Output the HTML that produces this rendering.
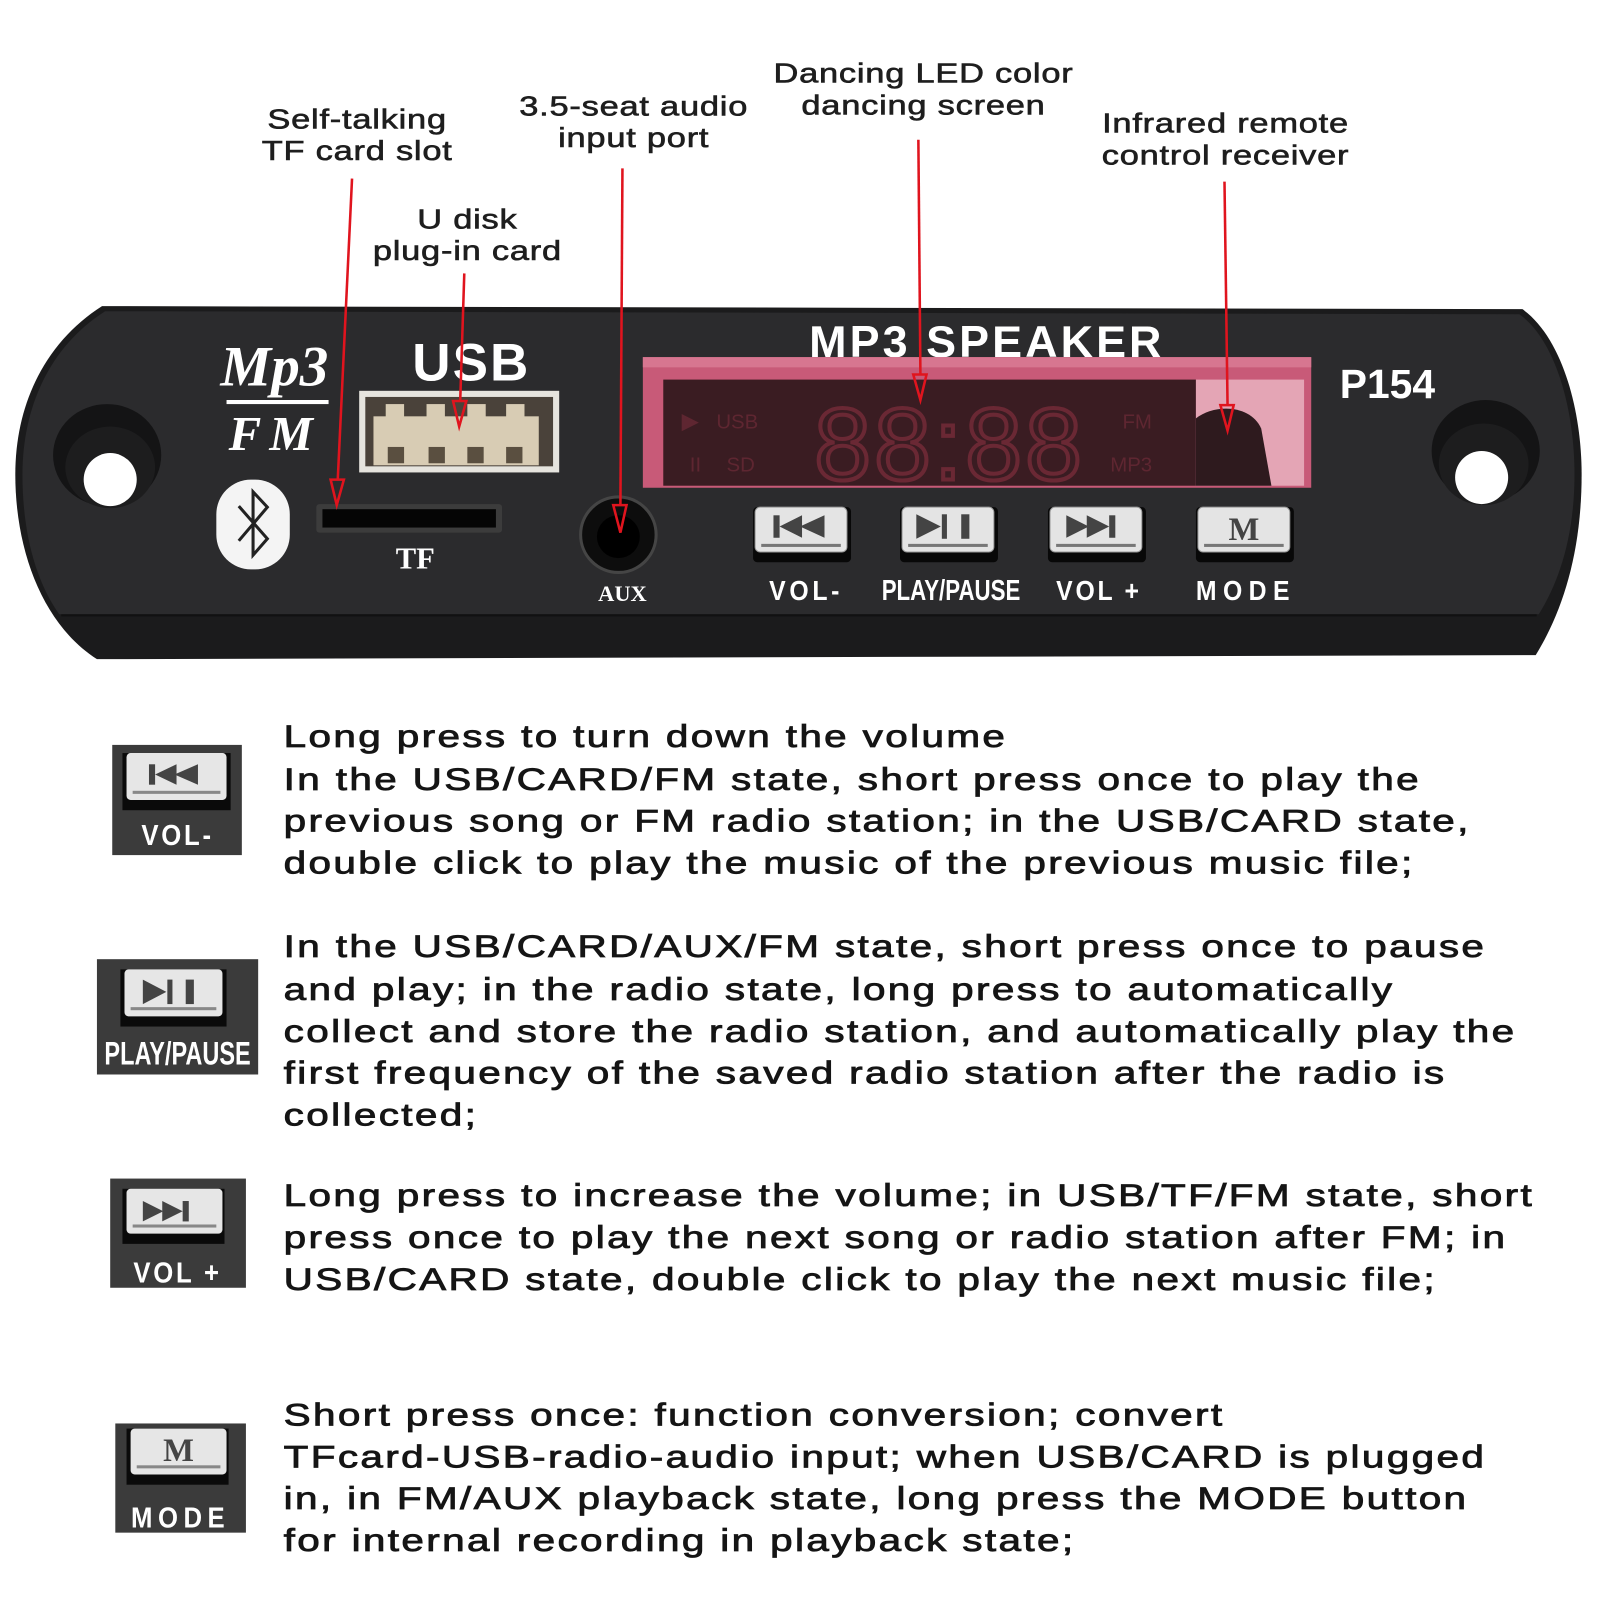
<!DOCTYPE html>
<html>
<head>
<meta charset="utf-8">
<style>
html,body{margin:0;padding:0;background:#fff;}
svg{display:block;}
.lbl{font-family:"Liberation Sans",Arial,sans-serif;font-size:27px;fill:#1e1e1e;stroke:#1e1e1e;stroke-width:0.6px;letter-spacing:0.6px;}
.body{font-family:"Liberation Sans",Arial,sans-serif;font-size:31px;fill:#151515;stroke:#151515;stroke-width:0.8px;letter-spacing:1.8px;}
.wb{font-family:"Liberation Sans",Arial,sans-serif;font-weight:bold;fill:#fff;}
.ws{font-family:"Liberation Serif","Times New Roman",serif;font-weight:bold;fill:#fff;}
.lcd{font-family:"Liberation Sans",Arial,sans-serif;fill:#5e2631;}
</style>
</head>
<body>
<svg width="1600" height="1600" viewBox="0 0 1568 1568" xmlns="http://www.w3.org/2000/svg">
<rect x="0" y="0" width="1568" height="1568" fill="#fff"/>

<!-- ===== Top labels ===== -->
<text class="lbl" text-anchor="middle" transform="translate(350,126) scale(1.25,1)">Self-talking</text>
<text class="lbl" text-anchor="middle" transform="translate(350,157) scale(1.25,1)">TF card slot</text>
<text class="lbl" text-anchor="middle" transform="translate(621,113) scale(1.25,1)">3.5-seat audio</text>
<text class="lbl" text-anchor="middle" transform="translate(621,144) scale(1.25,1)">input port</text>
<text class="lbl" text-anchor="middle" transform="translate(905,81) scale(1.25,1)">Dancing LED color</text>
<text class="lbl" text-anchor="middle" transform="translate(905,112) scale(1.25,1)">dancing screen</text>
<text class="lbl" text-anchor="middle" transform="translate(1201,130) scale(1.25,1)">Infrared remote</text>
<text class="lbl" text-anchor="middle" transform="translate(1201,161) scale(1.25,1)">control receiver</text>
<text class="lbl" text-anchor="middle" transform="translate(458,224) scale(1.25,1)">U disk</text>
<text class="lbl" text-anchor="middle" transform="translate(458,255) scale(1.25,1)">plug-in card</text>

<!-- ===== Panel ===== -->
<path d="M100,300 L1492,303 C1530,330 1550,400 1550,465 C1550,540 1532,598 1505,642 L95,646 C42,612 15,540 15,465 C15,395 45,335 100,300 Z" fill="#1b1b1c"/>
<path d="M103,305 L1489,308 C1524,333 1543,400 1543,465 C1543,525 1528,570 1508,602 L58,602 C34,568 22,520 22,465 C22,400 48,340 103,305 Z" fill="#2b2b2d"/>
<line x1="60" y1="603" x2="1506" y2="603" stroke="#111" stroke-width="2"/>

<!-- holes -->
<ellipse cx="105" cy="446" rx="53" ry="50" fill="#141415"/>
<ellipse cx="108" cy="458" rx="44" ry="40" fill="#1d1d1e"/>
<circle cx="108" cy="470" r="26" fill="#fff"/>
<ellipse cx="1456" cy="442" rx="53" ry="50" fill="#141415"/>
<ellipse cx="1454" cy="455" rx="44" ry="40" fill="#1d1d1e"/>
<circle cx="1452" cy="468" r="26" fill="#fff"/>

<!-- Mp3 / FM logo -->
<text class="ws" x="216" y="378" font-size="56" font-style="italic">Mp3</text>
<rect x="222" y="392" width="100" height="4" fill="#fff"/>
<text class="ws" x="224" y="441" font-size="48" font-style="italic" style="letter-spacing:8px">FM</text>

<!-- USB -->
<text class="wb" x="404" y="373" font-size="52" style="letter-spacing:2px">USB</text>
<rect x="352" y="383" width="196" height="80" fill="#e6e4de"/>
<rect x="358" y="389" width="184" height="68" fill="#4a423a"/>
<rect x="366" y="408" width="162" height="48" fill="#d8ccb4"/>
<rect x="378" y="396" width="18" height="14" fill="#d8ccb4"/>
<rect x="418" y="396" width="18" height="14" fill="#d8ccb4"/>
<rect x="458" y="396" width="18" height="14" fill="#d8ccb4"/>
<rect x="496" y="396" width="18" height="14" fill="#d8ccb4"/>
<rect x="380" y="438" width="16" height="16" fill="#5a4f40"/>
<rect x="420" y="438" width="16" height="16" fill="#5a4f40"/>
<rect x="458" y="438" width="16" height="16" fill="#5a4f40"/>
<rect x="496" y="438" width="16" height="16" fill="#5a4f40"/>

<!-- Bluetooth -->
<rect x="212" y="470" width="72" height="88" rx="34" fill="#f4f4f4"/>
<polyline points="234,496 262,528 248,544 248,482 262,497 234,530" fill="none" stroke="#222" stroke-width="3"/>

<!-- TF slot -->
<rect x="310" y="494" width="182" height="28" rx="3" fill="#3c3c3c"/>
<rect x="316" y="499" width="170" height="18" fill="#050505"/>
<text class="ws" x="407" y="557" font-size="30" text-anchor="middle">TF</text>

<!-- AUX -->
<circle cx="606" cy="524" r="37" fill="#0d0d0d" stroke="#454545" stroke-width="3"/>
<circle cx="606" cy="526" r="21" fill="#000"/>
<text class="ws" x="610" y="589" font-size="22" text-anchor="middle">AUX</text>

<!-- Display -->
<text class="wb" x="793" y="350" font-size="44" style="letter-spacing:3px">MP3 SPEAKER</text>
<rect x="630" y="350" width="655" height="128" fill="#c85a78"/>
<rect x="630" y="350" width="655" height="10" fill="#d77690"/>
<rect x="650" y="372" width="522" height="104" fill="#3a1c22"/>
<rect x="1172" y="372" width="106" height="104" fill="#e4a5b5"/>
<path d="M1172,410 C1190,396 1225,396 1236,420 L1246,476 L1172,476 Z" fill="#2e1a1e"/>
<text class="lcd" x="668" y="420" font-size="22">▶</text>
<text class="lcd" x="702" y="420" font-size="20">USB</text>
<text class="lcd" x="676" y="462" font-size="20">II</text>
<text class="lcd" x="712" y="462" font-size="20">SD</text>
<text class="lcd" x="1100" y="420" font-size="20">FM</text>
<text class="lcd" x="1088" y="462" font-size="20">MP3</text>
<text x="798" y="470" font-family="Liberation Sans,Arial,sans-serif" font-size="100" fill="none" stroke="#6a2834" stroke-width="4" style="letter-spacing:3px">88:88</text>

<text class="wb" x="1313" y="390" font-size="40">P154</text>

<!-- Panel buttons -->
<g>
  <rect x="738" y="497" width="96" height="54" rx="4" fill="#080808"/>
  <rect x="740" y="497" width="90" height="44" rx="5" fill="#e4e4e4" stroke="#999" stroke-width="1"/>
  <rect x="746" y="533" width="78" height="3" fill="#777"/>
  <rect x="758" y="505" width="6" height="22" fill="#444"/>
  <polygon points="764,516 786,505 786,527" fill="#444"/>
  <polygon points="784,516 808,505 808,527" fill="#444"/>
</g>
<g>
  <rect x="882" y="497" width="96" height="54" rx="4" fill="#080808"/>
  <rect x="884" y="497" width="90" height="44" rx="5" fill="#e4e4e4" stroke="#999" stroke-width="1"/>
  <rect x="890" y="533" width="78" height="3" fill="#777"/>
  <polygon points="898,504 898,528 922,516" fill="#444"/>
  <rect x="923" y="504" width="5" height="24" fill="#444"/>
  <rect x="942" y="504" width="8" height="24" fill="#444"/>
</g>
<g>
  <rect x="1027" y="497" width="96" height="54" rx="4" fill="#080808"/>
  <rect x="1029" y="497" width="90" height="44" rx="5" fill="#e4e4e4" stroke="#999" stroke-width="1"/>
  <rect x="1035" y="533" width="78" height="3" fill="#777"/>
  <polygon points="1045,505 1045,527 1067,516" fill="#444"/>
  <polygon points="1065,505 1065,527 1087,516" fill="#444"/>
  <rect x="1087" y="505" width="6" height="22" fill="#444"/>
</g>
<g>
  <rect x="1172" y="497" width="96" height="54" rx="4" fill="#080808"/>
  <rect x="1174" y="497" width="90" height="44" rx="5" fill="#e4e4e4" stroke="#999" stroke-width="1"/>
  <rect x="1180" y="533" width="78" height="3" fill="#777"/>
  <text x="1219" y="529" font-family="Liberation Serif,serif" font-weight="bold" font-size="32" fill="#444" text-anchor="middle">M</text>
</g>
<text class="wb" font-size="27" text-anchor="middle" transform="translate(790,588) scale(0.9,1)" style="letter-spacing:4px">VOL-</text>
<text class="wb" font-size="28" text-anchor="middle" transform="translate(932,588) scale(0.78,1)">PLAY/PAUSE</text>
<text class="wb" font-size="27" text-anchor="middle" transform="translate(1077,588) scale(0.9,1)" style="letter-spacing:3px">VOL +</text>
<text class="wb" font-size="27" text-anchor="middle" transform="translate(1221,588) scale(0.9,1)" style="letter-spacing:7px">MODE</text>

<!-- ===== Red pointer lines ===== -->
<g stroke="#e0141e" stroke-width="2.5" fill="none">
  <line x1="345" y1="175" x2="331" y2="470"/>
  <polygon points="324,470 337,470 330,495"/>
  <line x1="455" y1="268" x2="451" y2="393"/>
  <polygon points="444,393 457,393 450,418"/>
  <line x1="610" y1="165" x2="608" y2="495"/>
  <polygon points="601,495 614,495 608,522"/>
  <line x1="900" y1="137" x2="902" y2="367"/>
  <polygon points="895,367 908,367 902,392"/>
  <line x1="1200" y1="178" x2="1203" y2="397"/>
  <polygon points="1196,397 1209,397 1203,422"/>
</g>

<!-- ===== Bottom icons ===== -->
<!-- VOL- -->
<rect x="110" y="730" width="127" height="108" fill="#3b3b3b"/>
<rect x="120" y="738" width="106" height="56" fill="#0a0a0a"/>
<rect x="124" y="738" width="98" height="46" rx="4" fill="#e6e6e6"/>
<rect x="130" y="775" width="86" height="3" fill="#888"/>
<rect x="146" y="749" width="6" height="20" fill="#444"/>
<polygon points="152,759 173,749 173,769" fill="#444"/>
<polygon points="171,759 194,749 194,769" fill="#444"/>
<text class="wb" font-size="28" text-anchor="middle" transform="translate(174,828) scale(0.9,1)" style="letter-spacing:3px">VOL-</text>

<!-- PLAY/PAUSE -->
<rect x="95" y="940" width="158" height="113" fill="#3b3b3b"/>
<rect x="118" y="950" width="104" height="56" fill="#0a0a0a"/>
<rect x="122" y="950" width="96" height="46" rx="4" fill="#e6e6e6"/>
<rect x="128" y="987" width="84" height="3" fill="#888"/>
<polygon points="140,960 140,984 163,972" fill="#444"/>
<rect x="164" y="960" width="5" height="24" fill="#444"/>
<rect x="182" y="960" width="8" height="24" fill="#444"/>
<text class="wb" font-size="32" text-anchor="middle" transform="translate(174,1043) scale(0.72,1)">PLAY/PAUSE</text>

<!-- VOL+ -->
<rect x="108" y="1155" width="133" height="107" fill="#3b3b3b"/>
<rect x="120" y="1165" width="100" height="54" fill="#0a0a0a"/>
<rect x="124" y="1165" width="94" height="44" rx="4" fill="#e6e6e6"/>
<rect x="130" y="1200" width="82" height="3" fill="#888"/>
<polygon points="140,1177 140,1197 160,1187" fill="#444"/>
<polygon points="159,1177 159,1197 179,1187" fill="#444"/>
<rect x="179" y="1177" width="6" height="20" fill="#444"/>
<text class="wb" font-size="28" text-anchor="middle" transform="translate(174,1257) scale(0.9,1)" style="letter-spacing:3px">VOL +</text>

<!-- MODE -->
<rect x="113" y="1395" width="128" height="107" fill="#3b3b3b"/>
<rect x="124" y="1400" width="100" height="55" fill="#0a0a0a"/>
<rect x="128" y="1400" width="94" height="45" rx="4" fill="#e6e6e6"/>
<rect x="134" y="1436" width="82" height="3" fill="#888"/>
<text x="175" y="1432" font-family="Liberation Serif,serif" font-weight="bold" font-size="32" fill="#444" text-anchor="middle">M</text>
<text class="wb" font-size="28" text-anchor="middle" transform="translate(177,1497) scale(0.9,1)" style="letter-spacing:6px">MODE</text>

<!-- ===== Bottom text ===== -->
<text class="body" transform="translate(278,732) scale(1.28,1)">Long press to turn down the volume</text>
<text class="body" transform="translate(278,774) scale(1.28,1)">In the USB/CARD/FM state, short press once to play the</text>
<text class="body" transform="translate(278,815) scale(1.28,1)">previous song or FM radio station; in the USB/CARD state,</text>
<text class="body" transform="translate(278,856) scale(1.28,1)">double click to play the music of the previous music file;</text>

<text class="body" transform="translate(278,938) scale(1.28,1)">In the USB/CARD/AUX/FM state, short press once to pause</text>
<text class="body" transform="translate(278,980) scale(1.28,1)">and play; in the radio state, long press to automatically</text>
<text class="body" transform="translate(278,1021) scale(1.28,1)">collect and store the radio station, and automatically play the</text>
<text class="body" transform="translate(278,1062) scale(1.28,1)">first frequency of the saved radio station after the radio is</text>
<text class="body" transform="translate(278,1103) scale(1.28,1)">collected;</text>

<text class="body" transform="translate(278,1182) scale(1.28,1)">Long press to increase the volume; in USB/TF/FM state, short</text>
<text class="body" transform="translate(278,1223) scale(1.28,1)">press once to play the next song or radio station after FM; in</text>
<text class="body" transform="translate(278,1264) scale(1.28,1)">USB/CARD state, double click to play the next music file;</text>

<text class="body" transform="translate(278,1397) scale(1.28,1)">Short press once: function conversion; convert</text>
<text class="body" transform="translate(278,1438) scale(1.28,1)">TFcard-USB-radio-audio input; when USB/CARD is plugged</text>
<text class="body" transform="translate(278,1479) scale(1.28,1)">in, in FM/AUX playback state, long press the MODE button</text>
<text class="body" transform="translate(278,1520) scale(1.28,1)">for internal recording in playback state;</text>
</svg>
</body>
</html>
